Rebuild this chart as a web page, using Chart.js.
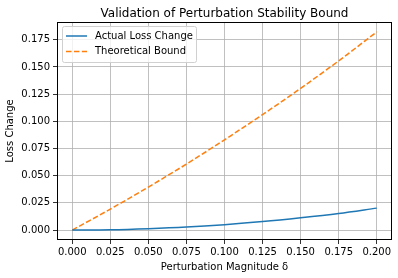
<!DOCTYPE html>
<html>
<head>
<meta charset="utf-8">
<script src="https://cdn.jsdelivr.net/npm/chart.js@4"></script>
<style>
  html, body { margin: 0; padding: 0; background: #fff; }
  #wrap { width: 398px; height: 278px; }
</style>
</head>
<body>
<div id="wrap"><canvas id="chart" width="398" height="278"></canvas></div>
<script>
const title = 'Validation of Perturbation Stability Bound';
const xLabel = 'Perturbation Magnitude δ';
const yLabel = 'Loss Change';

const deltas = [0, 0.025, 0.05, 0.075, 0.1, 0.125, 0.15, 0.175, 0.2];
const actualLoss = [0, 0.0003, 0.0013, 0.0028, 0.005, 0.0078, 0.0113, 0.0153, 0.0202];
const theoBound = [0, 0.0193, 0.0396, 0.0607, 0.083, 0.1062, 0.1303, 0.1556, 0.1822];

const xTicks = [0, 0.025, 0.05, 0.075, 0.1, 0.125, 0.15, 0.175, 0.2];
const yTicks = [0, 0.025, 0.05, 0.075, 0.1, 0.125, 0.15, 0.175];

const FONT = 'DejaVu Sans';

// frame, title and matplotlib-like legend
const decor = {
    id: 'decor',
    afterDraw(chart) {
        const { ctx, chartArea: a } = chart;
        ctx.save();
        ctx.strokeStyle = '#000';
        ctx.lineWidth = 1;
        ctx.strokeRect(a.left + 0.5, a.top + 0.5, a.right - a.left - 1, a.bottom - a.top - 1);

        ctx.fillStyle = '#000';
        ctx.font = `12px "${FONT}"`;
        ctx.textAlign = 'center';
        ctx.textBaseline = 'alphabetic';
        ctx.fillText(title, (a.left + a.right) / 2, 17);

        // legend
        const bx = 62, by = 26, bw = 134, bh = 36;
        ctx.beginPath();
        ctx.roundRect(bx + 0.5, by + 0.5, bw, bh, 2);
        ctx.fillStyle = 'rgba(255,255,255,0.8)';
        ctx.fill();
        ctx.strokeStyle = '#d0d0d0';
        ctx.stroke();
        ctx.font = `10px "${FONT}"`;
        ctx.textAlign = 'left';
        ctx.textBaseline = 'middle';
        chart.data.datasets.forEach((ds, i) => {
            const y = by + 10 + i * 15.5;
            ctx.beginPath();
            ctx.setLineDash(ds.borderDash || []);
            ctx.strokeStyle = ds.borderColor;
            ctx.lineWidth = ds.borderWidth;
            ctx.moveTo(66, y);
            ctx.lineTo(87, y);
            ctx.stroke();
            ctx.setLineDash([]);
            ctx.fillStyle = '#000';
            ctx.fillText(ds.label, 95, y);
        });
        ctx.restore();
    }
};

new Chart(document.getElementById('chart'), {
    type: 'line',
    data: {
        datasets: [
            {
                label: 'Actual Loss Change',
                data: deltas.map((d, i) => ({ x: d, y: actualLoss[i] })),
                borderColor: '#1f77b4',
                borderWidth: 1.5,
                pointRadius: 0,
                cubicInterpolationMode: 'monotone',
                fill: false
            },
            {
                label: 'Theoretical Bound',
                data: deltas.map((d, i) => ({ x: d, y: theoBound[i] })),
                borderColor: '#ff7f0e',
                borderWidth: 1.5,
                borderDash: [5.5, 2.4],
                pointRadius: 0,
                cubicInterpolationMode: 'monotone',
                fill: false
            }
        ]
    },
    options: {
        responsive: false,
        animation: false,
        layout: { padding: { top: 22, right: 6, left: 0, bottom: 0 } },
        plugins: {
            legend: { display: false },
            title: { display: false },
            tooltip: { enabled: false }
        },
        scales: {
            x: {
                type: 'linear',
                min: -0.01,
                max: 0.21,
                afterBuildTicks: s => { s.ticks = xTicks.map(v => ({ value: v })); },
                afterFit: s => { s.height = 38; },
                ticks: {
                    color: '#000',
                    font: { family: FONT, size: 10 },
                    padding: 2,
                    maxRotation: 0,
                    autoSkip: false,
                    callback: v => Number(v).toFixed(3)
                },
                grid: { color: '#b0b0b0', lineWidth: 0.8, tickColor: '#000', tickLength: 4, drawTicks: true },
                border: { display: false },
                title: { display: true, text: xLabel, color: '#000', font: { family: FONT, size: 10 }, padding: { top: 2, bottom: 5 } }
            },
            y: {
                type: 'linear',
                min: -0.0091,
                max: 0.1913,
                afterBuildTicks: s => { s.ticks = yTicks.map(v => ({ value: v })); },
                afterFit: s => { s.width = 57; },
                ticks: {
                    color: '#000',
                    font: { family: FONT, size: 10 },
                    padding: 3,
                    autoSkip: false,
                    callback: v => Number(v).toFixed(3)
                },
                grid: { color: '#b0b0b0', lineWidth: 0.8, tickColor: '#000', tickLength: 4, drawTicks: true },
                border: { display: false },
                title: { display: true, text: yLabel, color: '#000', font: { family: FONT, size: 10 }, padding: { top: 4, bottom: 2 } }
            }
        }
    },
    plugins: [decor]
});
</script>
</body>
</html>
